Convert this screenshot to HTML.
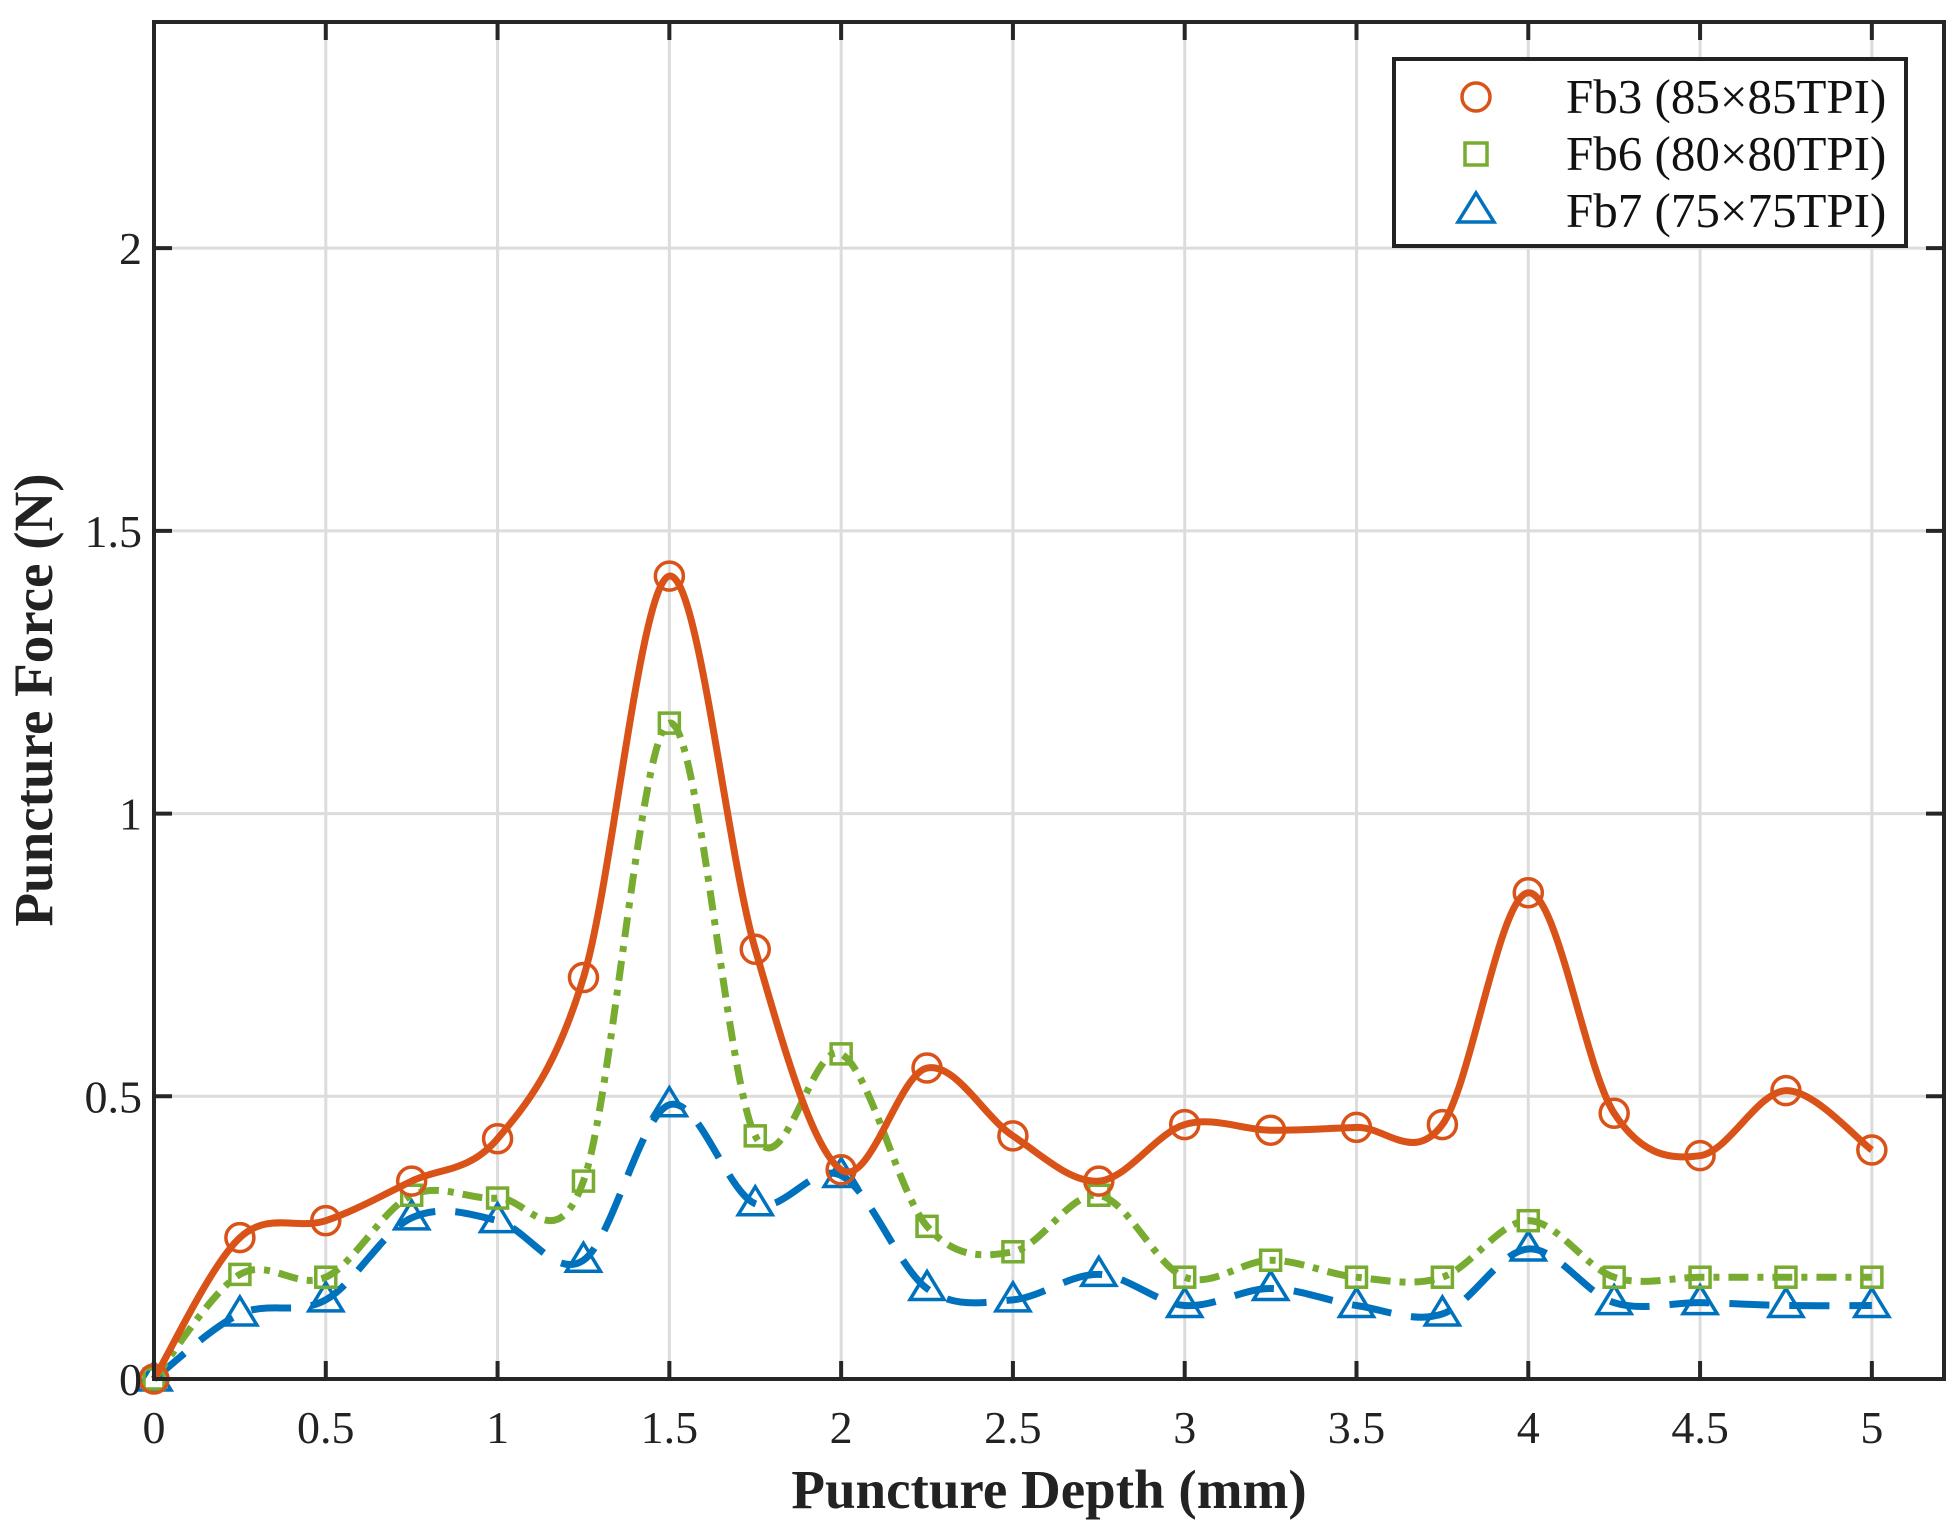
<!DOCTYPE html>
<html><head><meta charset="utf-8"><style>
html,body{margin:0;padding:0;background:#fff;}
svg{display:block;font-family:"Liberation Serif",serif;}
</style></head><body>
<svg id="chart" width="1960" height="1530" viewBox="0 0 1960 1530">
<rect width="1960" height="1530" fill="#fff"/>
<g id="grid"></g>
<g id="series"></g>
<g id="axes"></g>
<text x="1049" y="1508" font-size="55" font-weight="bold" text-anchor="middle" fill="#222">Puncture Depth (mm)</text>
<text transform="translate(52,700) rotate(-90)" font-size="55" font-weight="bold" text-anchor="middle" fill="#222">Puncture Force (N)</text>
<g>
<rect x="1394" y="59" width="512" height="187" fill="#fff" stroke="#222" stroke-width="4"/>
<g>
<circle cx="1476" cy="97" r="14" fill="none" stroke="#D95319" stroke-width="3.5"/>
<text x="1566" y="113" font-size="49" fill="#111">Fb3 (85×85TPI)</text></g>
<g>
<rect x="1465" y="143" width="22" height="22" fill="none" stroke="#77AC30" stroke-width="3.5"/>
<text x="1566" y="170" font-size="49" fill="#111">Fb6 (80×80TPI)</text></g>
<g>
<polygon points="1476,193 1494,222 1458,222" fill="none" stroke="#0072BD" stroke-width="3.5"/>
<text x="1566" y="227" font-size="49" fill="#111">Fb7 (75×75TPI)</text></g>
</g>
</svg>
<script>
const xValues=[0,0.25,0.5,0.75,1,1.25,1.5,1.75,2,2.25,2.5,2.75,3,3.25,3.5,3.75,4,4.25,4.5,4.75,5];
const fb3=[0,0.25,0.28,0.35,0.425,0.71,1.42,0.76,0.37,0.55,0.43,0.35,0.45,0.44,0.445,0.45,0.86,0.47,0.395,0.51,0.405];
const fb6=[0,0.185,0.18,0.325,0.32,0.35,1.16,0.43,0.575,0.27,0.225,0.325,0.18,0.21,0.18,0.18,0.28,0.18,0.18,0.18,0.18];
const fb7=[0,0.115,0.14,0.285,0.28,0.21,0.485,0.31,0.36,0.16,0.14,0.185,0.13,0.16,0.13,0.115,0.23,0.135,0.135,0.13,0.13];
const xTicks=[0,0.5,1,1.5,2,2.5,3,3.5,4,4.5,5];
const xTickLabels=["0","0.5","1","1.5","2","2.5","3","3.5","4","4.5","5"];
const yTicks=[0,0.5,1,1.5,2];
const yTickLabels=["0","0.5","1","1.5","2"];

const L=154,R=1944,T=22,B=1379,XMAX=5.21,YMAX=2.4;
const sx=v=>L+v/XMAX*(R-L);
const sy=v=>B-v/YMAX*(B-T);
const NS="http://www.w3.org/2000/svg";
function mk(tag,attrs,parent){const e=document.createElementNS(NS,tag);for(const k in attrs)e.setAttribute(k,attrs[k]);parent.appendChild(e);return e;}
const grid=document.getElementById('grid'),axes=document.getElementById('axes'),ser=document.getElementById('series');
xTicks.forEach((t,i)=>{
 const g=mk('line',{x1:sx(t),x2:sx(t),y1:T,y2:B,stroke:'#dcdcdc','stroke-width':3},grid);
 
 
 mk('line',{x1:sx(t),x2:sx(t),y1:B,y2:B-18,stroke:'#262626','stroke-width':4},axes);
 mk('line',{x1:sx(t),x2:sx(t),y1:T,y2:T+18,stroke:'#262626','stroke-width':4},axes);
 const tx=mk('text',{x:sx(t),y:B+64,'font-size':46,'text-anchor':'middle',fill:'#222'},axes);
 tx.textContent=xTickLabels[i];
 
 
});
yTicks.forEach((t,i)=>{
 const g=mk('line',{x1:L,x2:R,y1:sy(t),y2:sy(t),stroke:'#dcdcdc','stroke-width':3},grid);
 
 
 mk('line',{x1:L,x2:L+18,y1:sy(t),y2:sy(t),stroke:'#262626','stroke-width':4},axes);
 mk('line',{x1:R,x2:R-18,y1:sy(t),y2:sy(t),stroke:'#262626','stroke-width':4},axes);
 const tx=mk('text',{x:L-12,y:sy(t)+16,'font-size':46,'text-anchor':'end',fill:'#222'},axes);
 tx.textContent=yTickLabels[i];
 
 
});
const box=mk('rect',{x:L,y:T,width:R-L,height:B-T,fill:'none',stroke:'#262626','stroke-width':4},axes);



function smoothPath(ys){
 const p=xValues.map((x,i)=>[sx(x),sy(ys[i])]);
 let d=`M${p[0][0]},${p[0][1]}`;
 for(let i=0;i<p.length-1;i++){
  const p0=p[Math.max(0,i-1)],p1=p[i],p2=p[i+1],p3=p[Math.min(p.length-1,i+2)];
  const c1=[p1[0]+(p2[0]-p0[0])/6,p1[1]+(p2[1]-p0[1])/6];
  const c2=[p2[0]-(p3[0]-p1[0])/6,p2[1]-(p3[1]-p1[1])/6];
  d+=` C${c1[0]},${c1[1]} ${c2[0]},${c2[1]} ${p2[0]},${p2[1]}`;
 }
 return d;
}
function drawSeries(ys,color,dash,marker,name){
 const g=mk('g',{},ser);
 
 
 const ln=mk('path',{d:smoothPath(ys),fill:'none',stroke:color,'stroke-width':7,'stroke-dasharray':dash,'stroke-linejoin':'round'},g);
 
 
 ys.forEach((v,i)=>{
  const cx=sx(xValues[i]),cy=sy(v);let m;
  if(marker==='circle')m=mk('circle',{cx:cx,cy:cy,r:14,fill:'none',stroke:color,'stroke-width':3.5},g);
  else if(marker==='square')m=mk('rect',{x:cx-10,y:cy-10,width:20,height:20,fill:'none',stroke:color,'stroke-width':3.5},g);
  else m=mk('polygon',{points:`${cx},${cy-17} ${cx+17},${cy+11} ${cx-17},${cy+11}`,fill:'none',stroke:color,'stroke-width':3.5},g);
  
  
 });
}
drawSeries(fb7,'#0072BD','40 20','triangle','series-fb7');
drawSeries(fb6,'#77AC30','20 9 6 9','square','series-fb6');
drawSeries(fb3,'#D95319','none','circle','series-fb3');
</script>
</body></html>
